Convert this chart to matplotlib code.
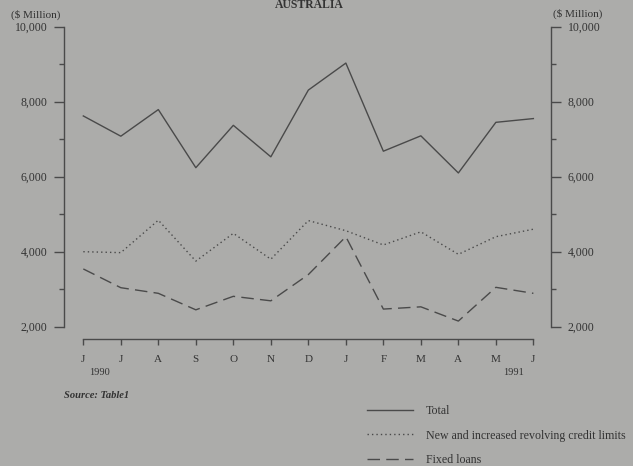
import matplotlib
matplotlib.use('Agg')
import matplotlib.pyplot as plt
from matplotlib.ticker import MultipleLocator, FuncFormatter

plt.rcParams['font.family'] = 'Liberation Serif'

# monthly values, June 1990 - June 1991 ($ Million)
months = ['J', 'J', 'A', 'S', 'O', 'N', 'D', 'J', 'F', 'M', 'A', 'M', 'J']
total = [7620, 7080, 7790, 6240, 7370, 6530, 8310, 9030, 6680, 7090, 6100, 7450, 7550]
revolving = [4000, 3975, 4840, 3750, 4490, 3800, 4830, 4560, 4180, 4530, 3930, 4400, 4600]
fixed = [3540, 3040, 2890, 2450, 2810, 2690, 3390, 4400, 2470, 2530, 2150, 3050, 2890]
year_labels = [(0, '1990'), (12, '1991')]

bg = '#acacaa'
ink = '#4a4a4a'

W, H = 633, 466
fig = plt.figure(figsize=(W / 100, H / 100), dpi=100, facecolor=bg)
ax = fig.add_axes([64 / W, 1 - 326.7 / H, (551 - 64) / W, 300 / H])
ax.set_facecolor(bg)

x = list(range(len(months)))
l1, = ax.plot(x, total, color=ink, lw=1.0, label='Total')
l2, = ax.plot(x, revolving, color=ink, lw=1.0, linestyle=(0, (1, 2.2)),
              label='New and increased revolving credit limits')
l3, = ax.plot(x, fixed, color=ink, lw=1.0, linestyle=(0, (9, 4.5)),
              label='Fixed loans')

ax.set_xlim(-0.515, 12.47)
ax.set_ylim(2000, 10000)

# axes styling
ax.spines['top'].set_visible(False)
for s in ['left', 'right', 'bottom']:
    ax.spines[s].set_color(ink)
    ax.spines[s].set_linewidth(1.0)
ax.spines['bottom'].set_position(('outward', 9.1))
ax.spines['bottom'].set_bounds(0, 12)

ax.set_xticks(x)
ax.set_xticklabels(months)
ax.tick_params(axis='x', direction='out', length=4.3, width=1.0, color=ink,
               labelsize=8, labelcolor='#333333', pad=7)

ax.yaxis.set_major_locator(MultipleLocator(2000))
ax.yaxis.set_minor_locator(MultipleLocator(1000))
ax.yaxis.set_major_formatter(FuncFormatter(lambda v, p: f'{int(v):,}'))
ax.tick_params(axis='y', which='both', left=True, right=True,
               labelleft=True, labelright=True, direction='out',
               color=ink, width=1.0, labelsize=8.5, labelcolor='#333333')
ax.tick_params(axis='y', which='major', length=7, pad=5)
ax.tick_params(axis='y', which='minor', length=3.5)

# year labels under the month ticks
for i, yr in year_labels:
    ax.annotate(yr, xy=(i, 0), xycoords=('data', 'axes fraction'),
                xytext=(12 if i == 0 else -14, -45.5 * 0.72),
                textcoords='offset points', ha='center', va='center',
                fontsize=7.5, color='#333333')

# titles and captions
fig.text(309 / W, 1 - 5 / H, 'AUSTRALIA', ha='center', va='center',
         fontsize=8.5, fontweight='bold', color='#333333')
fig.text(35.5 / W, 1 - 15 / H, '($ Million)', ha='center', va='center',
         fontsize=8, color='#333333')
fig.text(578 / W, 1 - 13.5 / H, '($ Million)', ha='center', va='center',
         fontsize=8, color='#333333')
fig.text(64 / W, 1 - 396 / H, 'Source: Table1', ha='left', va='center',
         fontsize=7.6, style='italic', fontweight='bold', color='#333333')

fig.legend(handles=[l1, l2, l3], loc='upper left',
           bbox_to_anchor=(367 / W, 1 - 405 / H), frameon=False,
           fontsize=8.6, handlelength=3.85, handletextpad=1.1,
           labelspacing=1.05, borderpad=0, borderaxespad=0,
           labelcolor='#333333')

fig.savefig('out.png', dpi=100, facecolor=bg)
